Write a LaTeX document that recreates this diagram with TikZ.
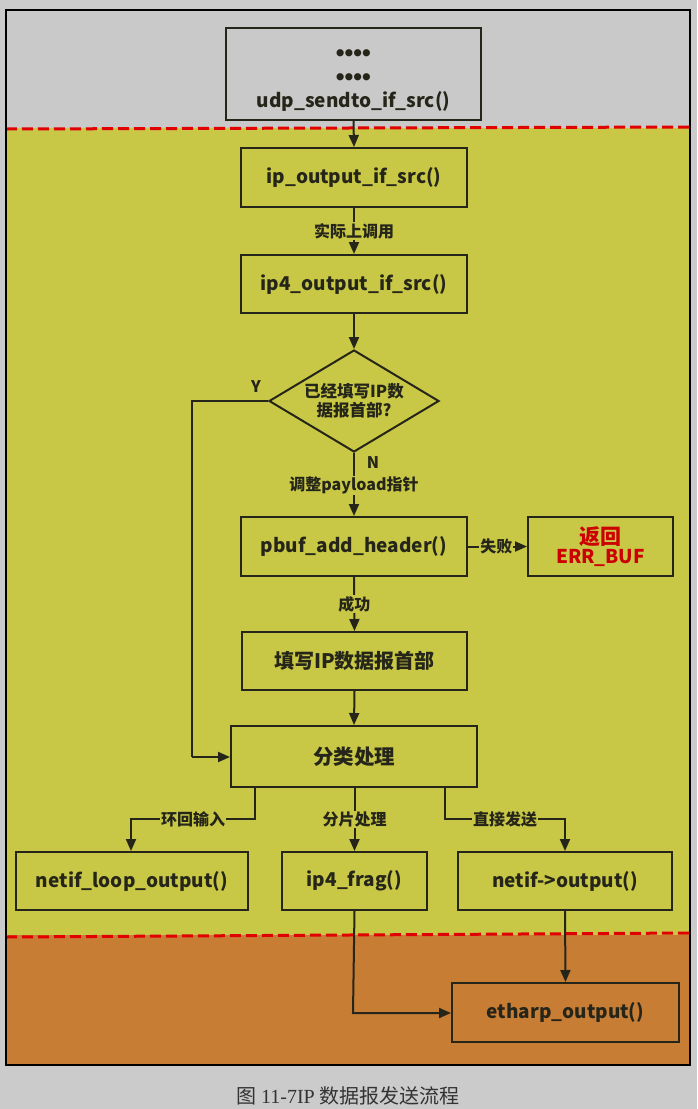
\documentclass[tikz,border=0pt]{standalone}
\usepackage{fontspec}
\setmainfont{Liberation Serif}
\newfontfamily\cjk{Noto Sans CJK SC}
\newfontfamily\lsans{Liberation Sans}
\usetikzlibrary{arrows.meta,shapes.geometric,calc}
\definecolor{bggray}{HTML}{CBCBCB}
\definecolor{ingray}{HTML}{C9C9C9}
\definecolor{ylw}{HTML}{C8C846}
\definecolor{orng}{HTML}{C87D35}
\definecolor{redd}{HTML}{E00000}
\definecolor{ink}{HTML}{25251A}
\definecolor{errred}{HTML}{CC0000}
\tikzset{
  box/.style={draw=ink, line width=2pt, inner sep=0pt, font=\cjk\bfseries\fontsize{19}{22}\selectfont, text=ink},
  lbl/.style={font=\cjk\bfseries\fontsize{16}{18}\selectfont, text=ink, inner sep=1pt},
  conn/.style={draw=ink, line width=2pt, -{Triangle[length=12pt,width=10pt]}},
  plainconn/.style={draw=ink, line width=2pt},
  sep/.style={draw=redd, line width=3pt, dash pattern=on 11pt off 5pt},
}
\begin{document}
\begin{tikzpicture}[x=1pt,y=-1pt]
\useasboundingbox (0,0) rectangle (697,1109);
\fill[bggray] (0,0) rectangle (697,1109);
% regions
\fill[ingray] (6,10) rectangle (690,128);
\fill[ylw] (6,128) rectangle (690,935);
\fill[orng] (6,935) rectangle (690,1065);
\draw[sep] (6,129) -- (690,127);
\draw[sep] (6,937) -- (690,933);
\draw[black, line width=1.5pt] (6,10) rectangle (690,1065);

% nodes
\node[box, minimum width=255pt, minimum height=92pt, align=center] (top) at (353.5,73.5)
  {\rule{0pt}{26pt}{\lsans\bfseries\fontsize{25}{25}\selectfont ••••}\\[2pt]{\lsans\bfseries\fontsize{25}{25}\selectfont ••••}\\[0pt]udp\_sendto\_if\_src()};
\node[box, minimum width=226pt, minimum height=59pt] (ipout) at (354,177.5) {ip\_output\_if\_src()};
\node[box, minimum width=226pt, minimum height=58pt] (ip4out) at (354,284) {ip4\_output\_if\_src()};
\node[draw=ink, line width=2pt, diamond, shape aspect=1.67, minimum width=170pt, minimum height=102pt, inner sep=0pt,
  align=center, font=\cjk\bfseries\fontsize{16.5}{19}\selectfont, text=ink] (dec) at (354,401)
  {已经填写IP数\\据报首部?};
\node[box, minimum width=226pt, minimum height=59pt] (pbuf) at (354,546.5) {pbuf\_add\_header()};
\node[box, minimum width=145pt, minimum height=59pt, align=center, text=errred] (err) at (600.5,546.5)
  {{\fontsize{21}{22}\selectfont 返回}\\[-3pt]ERR\_BUF};
\node[box, minimum width=225pt, minimum height=58pt, font=\cjk\bfseries\fontsize{20}{22}\selectfont] (fillhdr) at (354.5,661) {填写IP数据报首部};
\node[box, minimum width=246pt, minimum height=61pt, font=\cjk\bfseries\fontsize{20.5}{22}\selectfont] (cls) at (354,756.5) {分类处理};
\node[box, minimum width=232pt, minimum height=58pt] (loop) at (132,881) {netif\_loop\_output()};
\node[box, minimum width=145pt, minimum height=58pt] (frag) at (354.5,881) {ip4\_frag()};
\node[box, minimum width=214pt, minimum height=58pt] (nout) at (565,881) {netif->output()};
\node[box, minimum width=227pt, minimum height=59pt] (eth) at (565.5,1012.5) {etharp\_output()};

\node[font=\fontsize{20}{22}\selectfont, text=black!80] (cap) at (348,1096)
  {{\cjk 图} 11-7IP {\cjk 数据报发送流程}};

% helper coordinates
\coordinate (yl) at (192,401);
\coordinate (yb) at (192,757);
\coordinate (b1) at (255,819);
\coordinate (b1l) at (131,819);
\coordinate (b3) at (445,819);
\coordinate (b3r) at (565,819);
\coordinate (fc) at (353,1013);

% connectors
\draw[conn] (top.south) -- (ipout.north);
\draw[conn] (ipout.south) -- node[lbl, fill=ylw] (l1) {实际上调用} (ip4out.north);
\draw[conn] (ip4out.south) -- (dec.north);
\draw[conn] (dec.south) -- node[pos=0.52, lbl, fill=ylw] (l2) {调整payload指针} (pbuf.north);
\node[lbl] (nlab) at (373,463) {N};
\draw[plainconn] (dec.west) -- (yl) -- (yb);
\draw[conn] (yb) -- (cls.west |- yb);
\node[lbl] (ylab) at (256,387) {Y};
\draw[conn] (pbuf.east) -- node[lbl, fill=ylw, pos=0.48] (l3) {失败} (err.west);
\draw[conn] (pbuf.south) -- node[lbl, fill=ylw] (l4) {成功} (fillhdr.north);
\draw[conn] (fillhdr.south) -- (cls.north);
\draw[conn] (cls.south -| b1) -- (b1) -- node[lbl, fill=ylw, pos=0.5] (l5) {环回输入} (b1l) -- (loop.north -| b1l);
\draw[conn] (cls.south -| frag.north) -- node[lbl, fill=ylw, pos=0.5] (l6) {分片处理} (frag.north);
\draw[conn] (cls.south -| b3) -- (b3) -- node[lbl, fill=ylw, pos=0.5] (l7) {直接发送} (b3r) -- (nout.north -| b3r);
\draw[conn] (frag.south) -- (fc) -- (eth.west |- fc);
\draw[conn] (nout.south) -- (eth.north);
\end{tikzpicture}
\end{document}
